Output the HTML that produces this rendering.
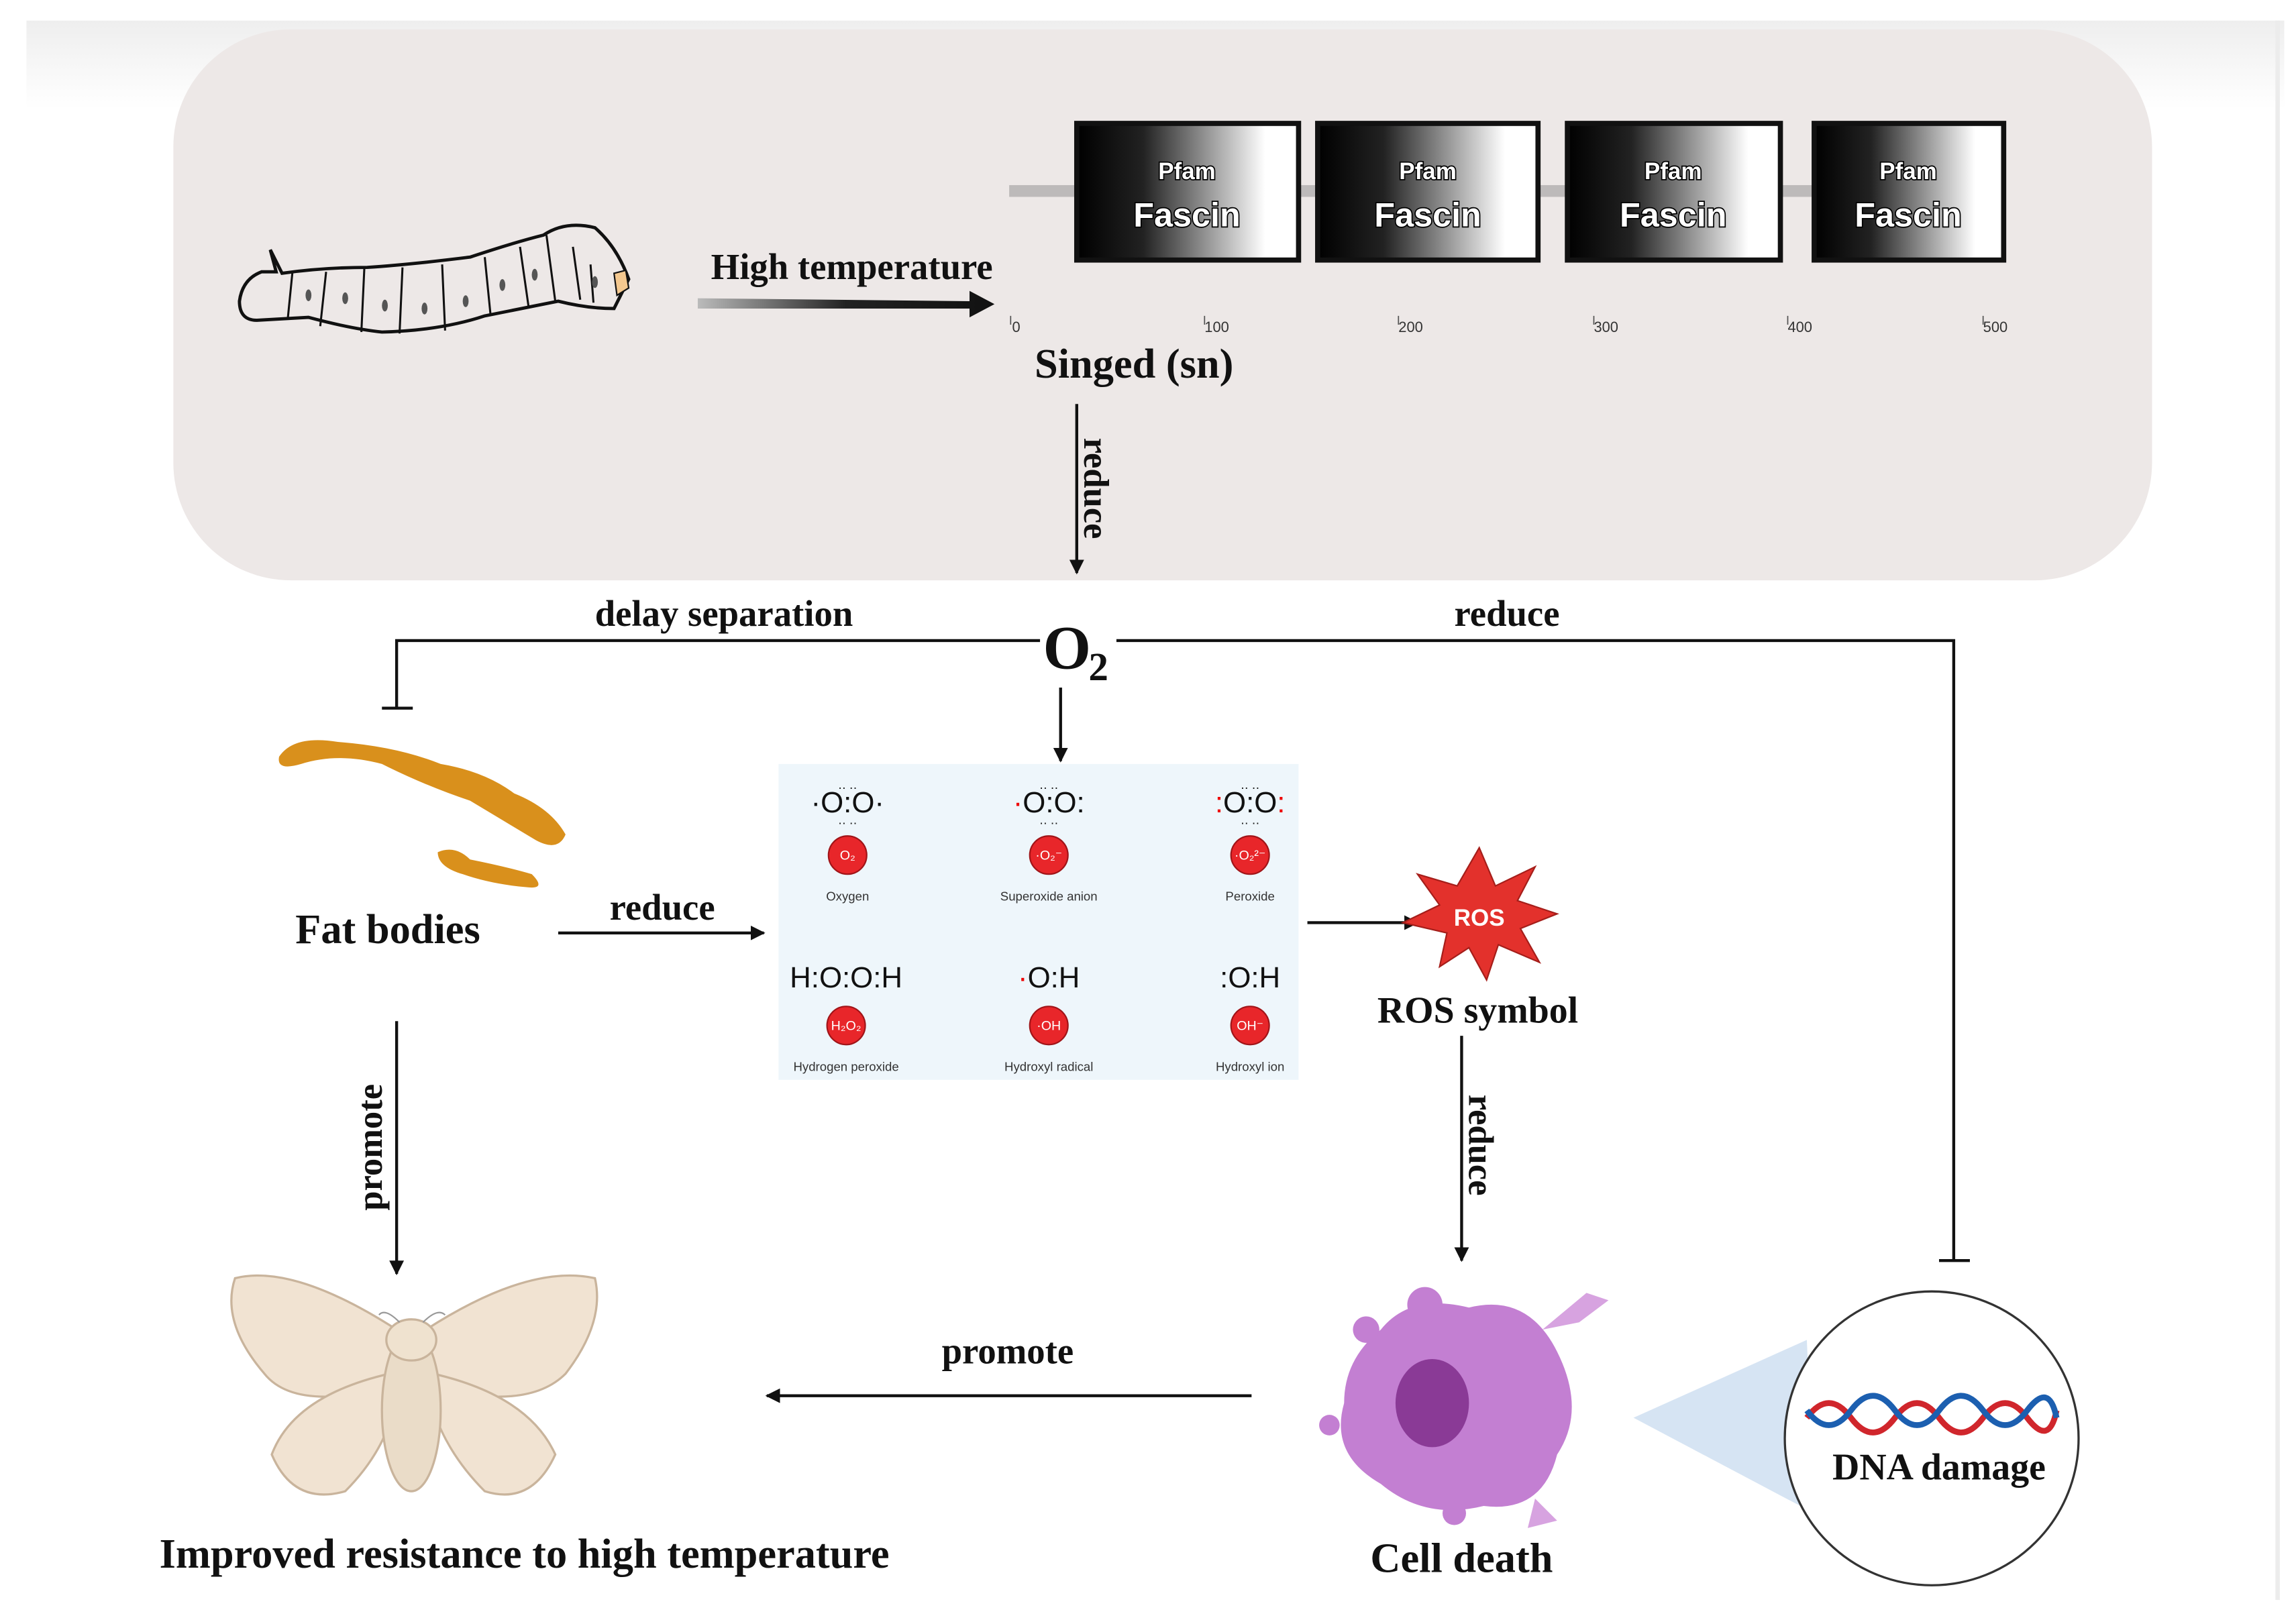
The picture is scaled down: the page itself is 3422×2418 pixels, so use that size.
<!DOCTYPE html>
<html><head><meta charset="utf-8"><style>
html,body{margin:0;padding:0;background:#fff;}
svg{display:block;}
.t{font-family:"Liberation Serif",serif;font-weight:bold;fill:#111;}
.s{font-family:"Liberation Sans",sans-serif;}
</style></head><body>
<svg width="3422" height="2418" viewBox="0 0 1563 1104" preserveAspectRatio="none" xmlns="http://www.w3.org/2000/svg">
<defs>
<linearGradient id="bx" x1="0" x2="1"><stop offset="0" stop-color="#000"/><stop offset="0.3" stop-color="#222"/><stop offset="0.85" stop-color="#fff"/></linearGradient>
<linearGradient id="ar" x1="0" x2="1"><stop offset="0" stop-color="#bbb"/><stop offset="0.5" stop-color="#222"/><stop offset="1" stop-color="#111"/></linearGradient>
<linearGradient id="top" x1="0" y1="0" x2="0" y2="1"><stop offset="0" stop-color="#eee"/><stop offset="1" stop-color="#fff"/></linearGradient>
<marker id="ah" viewBox="0 0 10 10" refX="9" refY="5" markerWidth="5" markerHeight="5" orient="auto"><path d="M0,0L10,5L0,10z" fill="#111"/></marker>
</defs>
<rect x="18" y="14" width="1537" height="60" fill="url(#top)"/>
<rect x="1549" y="14" width="3" height="1075" fill="#ececec"/>
<rect x="118" y="20" width="1347" height="375" rx="80" fill="#ede8e7"/>
<!-- caterpillar -->
<g fill="#ede8e7" stroke="#111" stroke-width="2.2">
<path d="M178,185 Q165,190 163,205 Q163,218 175,218 L210,216 Q240,224 260,226 Q300,225 330,215 L380,205 Q400,210 418,210 L428,190 Q420,168 405,155 Q385,150 370,160 Q350,165 320,175 Q280,180 250,182 Q220,182 192,186 L184,170 L188,185 Z"/>
</g>
<g stroke="#111" stroke-width="1.4" fill="none">
<path d="M199,186 L196,216 M222,185 L218,222 M248,183 L246,226 M274,182 L272,227 M301,180 L303,225 M330,175 L334,215 M354,168 L360,210 M372,160 L378,205 M390,168 L395,204 M402,180 L404,206"/>
</g>
<g fill="#555"><ellipse cx="210" cy="201" rx="2" ry="4"/><ellipse cx="235" cy="203" rx="2" ry="4"/><ellipse cx="262" cy="208" rx="2" ry="4"/><ellipse cx="289" cy="210" rx="2" ry="4"/><ellipse cx="317" cy="205" rx="2" ry="4"/><ellipse cx="342" cy="194" rx="2" ry="4"/><ellipse cx="364" cy="187" rx="2" ry="4"/><ellipse cx="405" cy="192" rx="2" ry="4"/></g>
<path d="M418,186 L426,184 L428,196 L420,201 Z" fill="#f4c88f" stroke="#111" stroke-width="1"/>
<!-- high temp arrow -->
<text x="484" y="190" class="t" font-size="25">High temperature</text>
<path d="M475,203 L660,205 L660,198 L677,207 L660,216 L660,210 L475,210 Z" fill="url(#ar)"/>
<!-- domain line and boxes -->
<rect x="687" y="126" width="678" height="8" fill="#bdbaba"/>
<g stroke="#111" stroke-width="3.5">
<rect x="733" y="84" width="151" height="93" fill="url(#bx)"/>
<rect x="897" y="84" width="150" height="93" fill="url(#bx)"/>
<rect x="1067" y="84" width="145" height="93" fill="url(#bx)"/>
<rect x="1235" y="84" width="129" height="93" fill="url(#bx)"/>
</g>
<g class="s" fill="#fff" stroke="#000" stroke-width="1.6" paint-order="stroke" text-anchor="middle" font-weight="bold">
<text x="808" y="122" font-size="16">Pfam</text><text x="808" y="154" font-size="23">Fascin</text>
<text x="972" y="122" font-size="16">Pfam</text><text x="972" y="154" font-size="23">Fascin</text>
<text x="1139" y="122" font-size="16">Pfam</text><text x="1139" y="154" font-size="23">Fascin</text>
<text x="1299" y="122" font-size="16">Pfam</text><text x="1299" y="154" font-size="23">Fascin</text>
</g>
<g class="s" font-size="10" fill="#333">
<text x="689" y="226">0</text><text x="820" y="226">100</text><text x="952" y="226">200</text><text x="1085" y="226">300</text><text x="1217" y="226">400</text><text x="1350" y="226">500</text>
</g>
<g stroke="#555" stroke-width="0.8"><path d="M688,215v6M820,215v6M952,215v6M1085,215v6M1217,215v6M1350,215v6"/></g>
<text x="772" y="257" class="t" font-size="28.5" text-anchor="middle">Singed (sn)</text>
<line x1="733" y1="275" x2="733" y2="390" stroke="#111" stroke-width="2" marker-end="url(#ah)"/>
<text class="t" font-size="24" transform="translate(738,298) rotate(90)">reduce</text>
<!-- O2 -->
<text x="710" y="455" class="t" font-size="42">O</text><text x="741" y="463" class="t" font-size="27">2</text>
<path d="M708,436 H270 V482 M260,482 H281 M760,436 H1330 V858 M1320,858 H1341" stroke="#111" stroke-width="2" fill="none"/>
<text x="405" y="426" class="t" font-size="25">delay separation</text>
<text x="990" y="426" class="t" font-size="25">reduce</text>
<line x1="722" y1="468" x2="722" y2="518" stroke="#111" stroke-width="2" marker-end="url(#ah)"/>
<!-- ROS panel -->
<rect x="530" y="520" width="354" height="215" fill="#eef6fb"/>
<g class="s" text-anchor="middle" fill="#111">
<text x="577" y="553" font-size="20">·O:O·</text>
<text x="714" y="553" font-size="20"><tspan fill="#e00">·</tspan>O:O:</text>
<text x="851" y="553" font-size="20"><tspan fill="#e00">:</tspan>O:O<tspan fill="#e00">:</tspan></text>
<text x="576" y="672" font-size="20">H:O:O:H</text>
<text x="714" y="672" font-size="20"><tspan fill="#e00">·</tspan>O:H</text>
<text x="851" y="672" font-size="20">:O:H</text>
</g>
<g fill="#111" font-size="8" class="s" text-anchor="middle">
<text x="577" y="537">‥ ‥</text><text x="714" y="537">‥ ‥</text><text x="851" y="537">‥ ‥</text>
<text x="577" y="561">‥ ‥</text><text x="714" y="561">‥ ‥</text><text x="851" y="561">‥ ‥</text>
</g>
<g fill="#e8262a" stroke="#a01418" stroke-width="1">
<circle cx="577" cy="582" r="13"/><circle cx="714" cy="582" r="13"/><circle cx="851" cy="582" r="13"/>
<circle cx="576" cy="698" r="13"/><circle cx="714" cy="698" r="13"/><circle cx="851" cy="698" r="13"/>
</g>
<g class="s" fill="#fff" font-size="9" text-anchor="middle">
<text x="577" y="585">O₂</text><text x="714" y="585">·O₂⁻</text><text x="851" y="585">·O₂²⁻</text>
<text x="576" y="701">H₂O₂</text><text x="714" y="701">·OH</text><text x="851" y="701">OH⁻</text>
</g>
<g class="s" fill="#333" font-size="8.5" text-anchor="middle">
<text x="577" y="613">Oxygen</text><text x="714" y="613">Superoxide anion</text><text x="851" y="613">Peroxide</text>
<text x="576" y="729">Hydrogen peroxide</text><text x="714" y="729">Hydroxyl radical</text><text x="851" y="729">Hydroxyl ion</text>
</g>
<!-- fat bodies -->
<path d="M190,515 Q200,500 230,505 Q270,508 300,520 Q330,525 350,540 Q375,550 385,568 Q380,580 365,572 Q345,560 320,545 Q290,535 260,520 Q230,512 205,520 Q188,525 190,515 Z" fill="#d9901c"/>
<path d="M298,580 Q310,575 320,585 Q345,590 362,595 Q372,605 360,604 Q335,602 315,595 Q298,590 298,580 Z" fill="#d9901c"/>
<text x="264" y="642" class="t" font-size="28.5" text-anchor="middle">Fat bodies</text>
<line x1="380" y1="635" x2="520" y2="635" stroke="#111" stroke-width="2" marker-end="url(#ah)"/>
<text x="415" y="626" class="t" font-size="25">reduce</text>
<line x1="890" y1="628" x2="965" y2="628" stroke="#111" stroke-width="2" marker-end="url(#ah)"/>
<!-- ROS star -->
<polygon points="1007,577 1018,603 1045,590 1033,613 1060,622 1035,632 1048,655 1020,643 1012,667 1000,645 980,658 985,635 955,628 980,616 965,595 992,603" fill="#e3312c" stroke="#a51e1a" stroke-width="1"/>
<text x="1007" y="630" class="s" font-size="16" font-weight="bold" fill="#fff" text-anchor="middle">ROS</text>
<text x="1006" y="696" class="t" font-size="25.5" text-anchor="middle">ROS symbol</text>
<line x1="995" y1="705" x2="995" y2="858" stroke="#111" stroke-width="2" marker-end="url(#ah)"/>
<text class="t" font-size="24" transform="translate(1000,745) rotate(90)">reduce</text>
<line x1="270" y1="695" x2="270" y2="867" stroke="#111" stroke-width="2" marker-end="url(#ah)"/>
<text class="t" font-size="24" transform="translate(260,824) rotate(-90)">promote</text>
<!-- moth -->
<g fill="#f1e3d2" stroke="#c9b49c" stroke-width="1.5">
<path d="M270,905 Q200,860 160,870 Q150,900 180,935 Q200,960 262,945 Z"/>
<path d="M290,905 Q360,860 405,870 Q412,900 385,935 Q360,960 298,945 Z"/>
<path d="M265,935 Q200,950 185,990 Q200,1025 235,1015 Q260,990 268,960 Z"/>
<path d="M295,935 Q360,950 378,990 Q362,1025 330,1015 Q305,990 295,960 Z"/>
<ellipse cx="280" cy="960" rx="20" ry="55" fill="#eadcc8"/>
<ellipse cx="280" cy="912" rx="17" ry="14" fill="#efe2cf"/>
</g>
<path d="M272,900 Q262,890 258,895 M288,900 Q298,890 303,895" stroke="#999" fill="none"/>
<text x="357" y="1067" class="t" font-size="28.5" text-anchor="middle">Improved resistance to high temperature</text>
<line x1="852" y1="950" x2="522" y2="950" stroke="#111" stroke-width="2" marker-end="url(#ah)"/>
<text x="686" y="928" class="t" font-size="25" text-anchor="middle">promote</text>
<!-- cell -->
<path d="M940,905 Q960,880 1000,890 Q1040,880 1060,920 Q1080,960 1060,990 Q1050,1030 1010,1025 Q970,1035 940,1010 Q905,990 915,955 Q915,925 940,905 Z" fill="#c37fd2"/>
<circle cx="970" cy="888" r="12" fill="#c37fd2"/><circle cx="930" cy="905" r="9" fill="#c37fd2"/><circle cx="905" cy="970" r="7" fill="#c37fd2"/><circle cx="1060" cy="960" r="8" fill="#c37fd2"/><circle cx="990" cy="1030" r="8" fill="#c37fd2"/>
<path d="M1050,905 L1080,880 L1095,885 L1075,900 Z M1045,1020 L1060,1035 L1040,1040 Z" fill="#d7a3e0"/>
<ellipse cx="975" cy="955" rx="25" ry="30" fill="#8a3a96"/>
<text x="995" y="1070" class="t" font-size="28.5" text-anchor="middle">Cell death</text>
<!-- DNA -->
<polygon points="1112,965 1230,912 1235,1030" fill="#d6e4f3"/>
<circle cx="1315" cy="979" r="100" fill="#fff" stroke="#333" stroke-width="1.5"/>
<path d="M1230,965 Q1245,945 1260,965 T1290,965 T1320,965 T1350,965 T1380,965 T1400,960" stroke="#d0262c" stroke-width="4" fill="none"/>
<path d="M1230,960 Q1245,980 1260,960 T1290,960 T1320,960 T1350,960 T1380,960 T1400,965" stroke="#1c5fb0" stroke-width="4" fill="none"/>
<text x="1320" y="1007" class="t" font-size="25.5" text-anchor="middle">DNA damage</text>
</svg>
</body></html>
